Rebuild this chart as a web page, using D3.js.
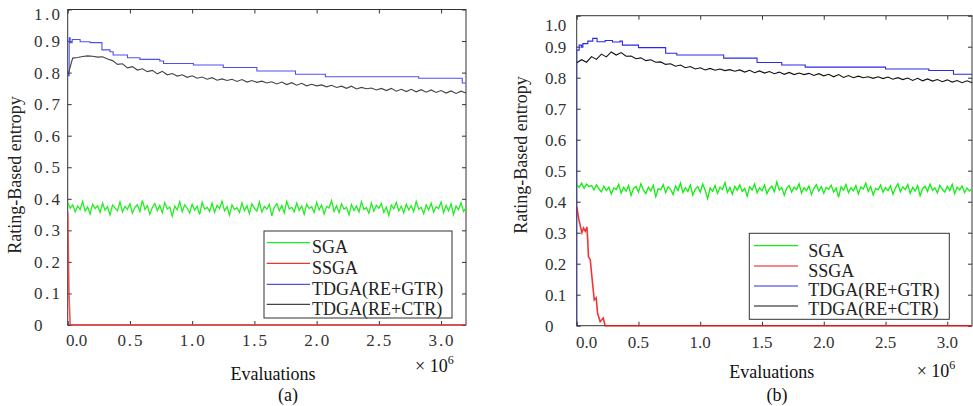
<!DOCTYPE html>
<html>
<head>
<meta charset="UTF-8">
<title>Rating-Based entropy</title>
<script src="https://cdn.jsdelivr.net/npm/d3@7"></script>
<style>
  body { margin: 0; background: #fff; }
</style>
</head>
<body>
<script>
// x values are evaluations in units of 1e6
const xTicks = [0, 0.5, 1.0, 1.5, 2.0, 2.5, 3.0];
const xTickLabels = ['0.0', '0.5', '1.0', '1.5', '2.0', '2.5', '3.0'];
const yTicks = [0, 0.1, 0.2, 0.3, 0.4, 0.5, 0.6, 0.7, 0.8, 0.9, 1.0];
const yTickLabels = ['0', '0.1', '0.2', '0.3', '0.4', '0.5', '0.6', '0.7', '0.8', '0.9', '1.0'];
const seriesNames = ['SGA', 'SSGA', 'TDGA(RE+GTR)', 'TDGA(RE+CTR)'];

// SGA, sampled evenly over 0..3.2
const sgaA = [
  0.388, 0.370, 0.381, 0.359, 0.377, 0.366, 0.392, 0.361, 0.374, 0.352, 0.383, 0.369, 0.378, 0.357, 0.386, 0.364,
  0.375, 0.349, 0.380, 0.371, 0.362, 0.390, 0.358, 0.376, 0.367, 0.384, 0.354, 0.373, 0.381, 0.360, 0.395, 0.366,
  0.378, 0.351, 0.372, 0.385, 0.363, 0.379, 0.356, 0.388, 0.368, 0.374, 0.345, 0.377, 0.365, 0.391, 0.359, 0.381,
  0.370, 0.355, 0.383, 0.364, 0.376, 0.350, 0.389, 0.367, 0.373, 0.360, 0.386, 0.357, 0.379, 0.369, 0.393, 0.362,
  0.375, 0.348, 0.381, 0.366, 0.372, 0.357, 0.387, 0.363, 0.378, 0.353, 0.384, 0.370, 0.361, 0.390, 0.358, 0.376,
  0.367, 0.382, 0.346, 0.374, 0.385, 0.362, 0.379, 0.355, 0.392, 0.368, 0.373, 0.359, 0.386, 0.364, 0.377, 0.351,
  0.383, 0.369, 0.375, 0.357, 0.389, 0.365, 0.380, 0.352, 0.376, 0.371, 0.394, 0.360, 0.378, 0.356, 0.384, 0.367,
  0.373, 0.349, 0.382, 0.363, 0.377, 0.358, 0.391, 0.366, 0.372, 0.354, 0.387, 0.361, 0.379, 0.370, 0.385, 0.357,
  0.374, 0.347, 0.380, 0.368, 0.389, 0.362, 0.376, 0.355, 0.383, 0.365, 0.378, 0.359, 0.392, 0.367, 0.373, 0.353,
  0.381, 0.364, 0.386, 0.358, 0.375, 0.369, 0.390, 0.356, 0.379, 0.362, 0.384, 0.350, 0.377, 0.366, 0.388, 0.360,
  0.372
];
const sgaB = [
  0.455, 0.446, 0.460, 0.443, 0.457, 0.449, 0.452, 0.438, 0.454, 0.441, 0.432, 0.450, 0.436, 0.447, 0.425, 0.444,
  0.439, 0.456, 0.428, 0.446, 0.434, 0.452, 0.420, 0.443, 0.449, 0.431, 0.458, 0.437, 0.426, 0.447, 0.435, 0.453,
  0.416, 0.442, 0.438, 0.455, 0.429, 0.448, 0.440, 0.423, 0.451, 0.436, 0.460, 0.430, 0.445, 0.433, 0.454, 0.421,
  0.441, 0.449, 0.431, 0.457, 0.437, 0.410, 0.444, 0.434, 0.452, 0.427, 0.447, 0.439, 0.462, 0.430, 0.446, 0.424,
  0.450, 0.437, 0.455, 0.433, 0.443, 0.418, 0.448, 0.438, 0.457, 0.429, 0.445, 0.435, 0.454, 0.426, 0.442, 0.450,
  0.432, 0.464, 0.437, 0.446, 0.421, 0.444, 0.452, 0.431, 0.447, 0.439, 0.458, 0.428, 0.445, 0.436, 0.451, 0.423,
  0.443, 0.455, 0.434, 0.449, 0.427, 0.446, 0.440, 0.453, 0.431, 0.444, 0.414, 0.448, 0.437, 0.456, 0.429, 0.445,
  0.435, 0.452, 0.425, 0.447, 0.441, 0.460, 0.433, 0.449, 0.422, 0.443, 0.438, 0.454, 0.430, 0.446, 0.436, 0.451,
  0.424, 0.444, 0.458, 0.432, 0.448, 0.439, 0.455, 0.427, 0.446, 0.434, 0.452, 0.419, 0.442, 0.450, 0.433, 0.457,
  0.437, 0.445, 0.428, 0.453, 0.440, 0.431, 0.449, 0.436, 0.456, 0.426, 0.447, 0.438, 0.451, 0.429, 0.444, 0.435,
  0.441
];

// TDGA(RE+CTR), sampled evenly over 0..3.2
const ctrA = [
  0.790, 0.846, 0.848, 0.851, 0.853, 0.852, 0.849, 0.850, 0.843, 0.838,
  0.826, 0.828, 0.815, 0.819, 0.808, 0.812, 0.803, 0.807, 0.796, 0.804,
  0.793, 0.797, 0.789, 0.793, 0.785, 0.790, 0.782, 0.786, 0.779, 0.784,
  0.776, 0.780, 0.775, 0.779, 0.772, 0.778, 0.770, 0.775, 0.769, 0.773,
  0.767, 0.771, 0.764, 0.770, 0.762, 0.768, 0.760, 0.766, 0.758, 0.763,
  0.758, 0.761, 0.755, 0.760, 0.753, 0.757, 0.750, 0.757, 0.748, 0.753,
  0.749, 0.751, 0.745, 0.750, 0.743, 0.750, 0.741, 0.747, 0.740, 0.747,
  0.739, 0.746, 0.738, 0.745, 0.737, 0.743, 0.735, 0.742, 0.734, 0.741,
  0.735
];
const ctrB = [
  0.848, 0.858, 0.850, 0.868, 0.859, 0.876, 0.867, 0.883, 0.873, 0.881,
  0.869, 0.870, 0.861, 0.864, 0.855, 0.858, 0.850, 0.851, 0.843, 0.845,
  0.837, 0.841, 0.832, 0.836, 0.828, 0.832, 0.825, 0.830, 0.824, 0.828,
  0.823, 0.826, 0.821, 0.825, 0.818, 0.824, 0.816, 0.822, 0.815, 0.820,
  0.813, 0.818, 0.811, 0.817, 0.810, 0.815, 0.810, 0.814, 0.807, 0.813,
  0.806, 0.811, 0.803, 0.810, 0.801, 0.807, 0.800, 0.805, 0.800, 0.803,
  0.798, 0.803, 0.797, 0.802, 0.795, 0.800, 0.794, 0.799, 0.791, 0.798,
  0.790, 0.796, 0.789, 0.794, 0.787, 0.793, 0.786, 0.791, 0.784, 0.790,
  0.784
];

// TDGA(RE+GTR), step changes
const gtrAX = [0, 0.012, 0.02, 0.036, 0.1, 0.18, 0.275, 0.34, 0.365, 0.48, 0.58, 0.74, 0.77, 1.01, 1.25, 1.52, 1.83, 2.07, 2.82, 3.17, 3.2];
const gtrAY = [0.79, 0.91, 0.895, 0.905, 0.898, 0.895, 0.872, 0.866, 0.856, 0.847, 0.842, 0.837, 0.829, 0.824, 0.816, 0.805, 0.795, 0.787, 0.782, 0.767, 0.767];
const gtrBX = [0, 0, 0.02, 0.04, 0.05, 0.09, 0.13, 0.165, 0.23, 0.29, 0.35, 0.37, 0.5, 0.72, 0.81, 1.19, 1.46, 1.66, 1.85, 2.5, 2.85, 3.05, 3.2];
const gtrBY = [0, 0.889, 0.905, 0.898, 0.91, 0.918, 0.927, 0.916, 0.92, 0.915, 0.918, 0.905, 0.897, 0.879, 0.873, 0.863, 0.849, 0.841, 0.834, 0.828, 0.823, 0.811, 0.811];

// SSGA
const ssgaAX = [0, 0.01, 0.02, 3.2];
const ssgaAY = [0.36, 0.1, 0, 0];
const ssgaBX = [0, 0.015, 0.042, 0.055, 0.069, 0.083, 0.09, 0.095, 0.11, 0.123, 0.142, 0.158, 0.169, 0.19, 0.215, 0.23, 3.2];
const ssgaBY = [0.384, 0.347, 0.30, 0.315, 0.305, 0.318, 0.27, 0.223, 0.212, 0.158, 0.083, 0.09, 0.04, 0.013, 0.025, 0, 0];

const W = 973, H = 406;
const FONT = '"Liberation Serif", "DejaVu Serif", "Times New Roman", serif';
const svg = d3.select('body').append('svg')
  .attr('width', W).attr('height', H)
  .attr('font-family', FONT);

const even = arr => arr.map((v, i) => [i * 3.2 / (arr.length - 1), v]);
const pairs = (xs, ys) => xs.map((v, i) => [v, ys[i]]);

function drawPanel(o) {
  const x = d3.scaleLinear().domain([0, 3.2]).range([o.left, o.right]);
  const y = d3.scaleLinear().domain([0, 1]).range([o.bottom, o.top]);
  const g = svg.append('g');

  // inward ticks on all four sides
  const ax = [
    [d3.axisBottom(x).tickValues(xTicks), o.bottom, 'x'],
    [d3.axisTop(x).tickValues(xTicks), o.top, 'x'],
    [d3.axisLeft(y).tickValues(yTicks), o.left, 'y'],
    [d3.axisRight(y).tickValues(yTicks), o.right, 'y']
  ];
  ax.forEach(([a, pos, dim]) => {
    const s = g.append('g')
      .attr('transform', dim === 'x' ? `translate(0,${pos})` : `translate(${pos},0)`)
      .call(a.tickSize(-4).tickSizeOuter(0).tickFormat(''));
    s.select('.domain').remove();
    s.selectAll('line').attr('stroke', '#333');
  });

  const cid = 'clip' + o.id;
  svg.append('clipPath').attr('id', cid)
    .append('rect').attr('x', o.left).attr('y', o.top - 2)
    .attr('width', o.right - o.left + 1).attr('height', o.bottom - o.top + 4);

  const line = d3.line().x(d => x(d[0])).y(d => y(d[1]));
  const step = d3.line().x(d => x(d[0])).y(d => y(d[1])).curve(d3.curveStepAfter);

  g.append('rect')
    .attr('x', o.left).attr('y', o.top)
    .attr('width', o.right - o.left).attr('height', o.bottom - o.top)
    .attr('fill', 'none').attr('stroke', '#333').attr('stroke-width', 1);

  const lines = g.append('g').attr('clip-path', `url(#${cid})`).attr('fill', 'none');
  lines.append('path').attr('d', line(o.sga)).attr('stroke', o.colors[0]).attr('stroke-width', 1.3);
  lines.append('path').attr('d', line(o.ssga)).attr('stroke', o.colors[1]).attr('stroke-width', 1.6).attr('stroke-opacity', 0.85);
  lines.append('path').attr('d', step(o.gtr)).attr('stroke', o.colors[2]).attr('stroke-width', 1.1);
  lines.append('path').attr('d', line(o.ctr)).attr('stroke', o.colors[3]).attr('stroke-width', 1.1);

  // tick labels (panel a has wider spaced labels)
  const ylab = g.selectAll('.ylab').data(yTicks).join('text')
    .attr('x', o.yLabX)
    .attr('y', (d, i) => y(d) + (i === yTicks.length - 1 ? o.topLabShift : 0))
    .attr('dy', '0.35em')
    .attr('font-size', 17).attr('fill', '#333')
    .text((d, i) => yTickLabels[i]);
  if (o.yLabLen) ylab.filter((d, i) => i > 0).attr('textLength', o.yLabLen).attr('lengthAdjust', 'spacing');

  const xlab = g.selectAll('.xlab').data(xTicks).join('text')
    .attr('x', (d, i) => x(d) + (i === 0 ? o.firstLabShift : 0))
    .attr('y', o.xLabY)
    .attr('text-anchor', 'middle')
    .attr('font-size', 17).attr('fill', '#333')
    .text((d, i) => xTickLabels[i]);
  if (o.xLabLen) xlab.filter((d, i) => i > 0).attr('textLength', o.xLabLen).attr('lengthAdjust', 'spacing');

  // titles
  g.append('text')
    .attr('transform', `translate(${o.yTitleX},${o.yTitleY}) rotate(-90)`)
    .attr('text-anchor', 'middle').attr('font-size', 18).attr('fill', '#222')
    .text('Rating-Based entropy');
  g.append('text')
    .attr('x', o.xTitleX).attr('y', o.xTitleY)
    .attr('text-anchor', 'middle').attr('font-size', 18).attr('fill', '#111')
    .text('Evaluations');
  const sc = g.append('text')
    .attr('x', o.scaleX).attr('y', o.scaleY)
    .attr('font-size', 18).attr('fill', '#111');
  sc.append('tspan').text('\u00d7 10');
  sc.append('tspan').attr('font-size', 12).attr('dy', -8).text('6');
  g.append('text')
    .attr('x', o.capX).attr('y', 401)
    .attr('text-anchor', 'middle').attr('font-size', 18).attr('fill', '#111')
    .text(o.caption);

  // legend
  const lg = o.legend;
  g.append('rect')
    .attr('x', lg.x0).attr('y', lg.y0)
    .attr('width', lg.x1 - lg.x0).attr('height', lg.y1 - lg.y0)
    .attr('fill', '#fff').attr('stroke', '#333').attr('stroke-width', 1);
  seriesNames.forEach((name, i) => {
    g.append('line')
      .attr('x1', lg.lx0).attr('x2', lg.lx1)
      .attr('y1', lg.lineY[i]).attr('y2', lg.lineY[i])
      .attr('stroke', o.colors[i]).attr('stroke-width', 1.2);
    g.append('text')
      .attr('x', lg.tx).attr('y', lg.textY[i])
      .attr('font-size', 18).attr('fill', '#222')
      .text(name);
  });
}

drawPanel({
  id: 'a', left: 67.7, right: 466, top: 9.5, bottom: 325,
  sga: even(sgaA), ssga: pairs(ssgaAX, ssgaAY), gtr: pairs(gtrAX, gtrAY), ctr: even(ctrA),
  colors: ['#22ee22', '#ee3333', '#5050f0', '#444'],
  yLabX: 34, topLabShift: 5, firstLabShift: 9, xLabY: 346, yLabLen: 26, xLabLen: 25,
  yTitleX: 21, yTitleY: 175, xTitleX: 273, xTitleY: 380,
  scaleX: 415, scaleY: 372, capX: 288, caption: '(a)',
  legend: { x0: 264, y0: 231, x1: 452, y1: 318, lx0: 266.7, lx1: 310, tx: 312,
            lineY: [242.7, 263.3, 284.3, 304.3], textY: [253, 274, 295, 315] }
});

drawPanel({
  id: 'b', left: 576.7, right: 972, top: 15.7, bottom: 325.7,
  sga: even(sgaB), ssga: pairs(ssgaBX, ssgaBY), gtr: pairs(gtrBX, gtrBY), ctr: even(ctrB),
  colors: ['#11ee11', '#ee1111', '#2a2ae6', '#111'],
  yLabX: 545, topLabShift: 9.5, firstLabShift: 10, xLabY: 347.5,
  yTitleX: 527, yTitleY: 155, xTitleX: 771.7, xTitleY: 378,
  scaleX: 916.7, scaleY: 377, capX: 777, caption: '(b)',
  legend: { x0: 749.3, y0: 233.3, x1: 949.3, y1: 319.3, lx0: 754, lx1: 798, tx: 808.3,
            lineY: [245.7, 266, 286, 306], textY: [257, 277, 296, 315] }
});
</script>
</body>
</html>
